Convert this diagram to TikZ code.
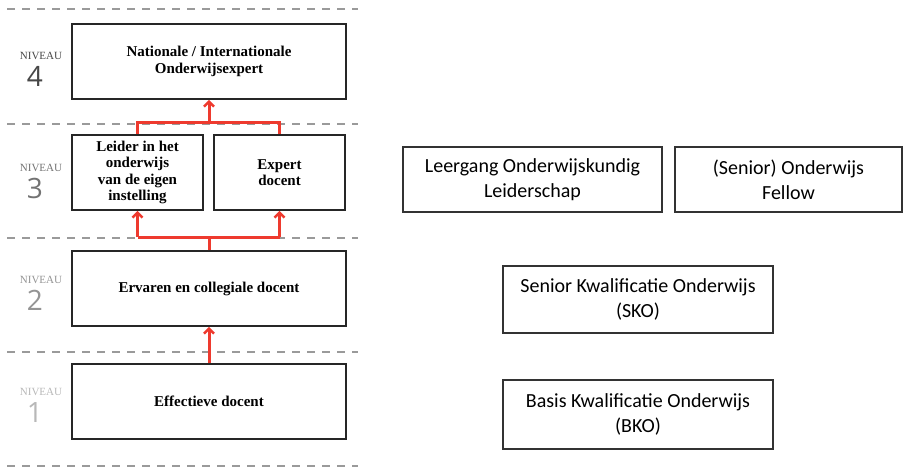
\documentclass[tikz,border=0pt]{standalone}
\usepackage{fontspec}
\setmainfont{Liberation Serif}
\newfontfamily\carlito{Carlito}
\newfontfamily\opensans{Open Sans}
\usetikzlibrary{arrows.meta}
\definecolor{arrowred}{HTML}{EE3A2E}
\definecolor{dashgray}{HTML}{9A9A9A}
\tikzset{
  levelbox/.style={draw=black!85, line width=1.5pt, fill=white, inner sep=0pt,
    align=center, font=\bfseries\fontsize{15}{16.5}\selectfont},
  coursebox/.style={draw=black!80, line width=1.1pt, inner sep=0pt,
    align=center, font=\carlito\fontsize{20}{25}\selectfont},
  sepline/.style={dashgray, line width=1.3pt, dash pattern=on 8pt off 7pt},
  uparrow/.style={arrowred, line width=3pt, -{Straight Barb[length=5pt,width=10pt,line width=2.6pt]}},
  redline/.style={arrowred, line width=3pt},
  niv/.style={font=\fontsize{11}{12}\selectfont, inner sep=0pt},
  digit/.style={font=\opensans\fontsize{28}{29}\selectfont, inner sep=0pt},
}
\begin{document}
\begin{tikzpicture}[x=1pt,y=-1pt]
\useasboundingbox (0,0) rectangle (904,467);

% level separators
\foreach \yy in {9,124,238,352,466}
  \draw[sepline] (7,\yy) -- (358,\yy);

% level labels
\foreach \yy/\num/\col in {56/4/black!72, 168/3/black!55, 280/2/black!42, 392/1/black!28}{
  \node[niv, text=\col] at (41,\yy) {NIVEAU};
  \node[digit, text=\col] at (35,\yy+20) {\num};
}

% competence levels
\node[levelbox, minimum width=274pt, minimum height=75pt] (l4) at (209,61.5)
  {Nationale / Internationale\\Onderwijsexpert};
\node[levelbox, minimum width=131pt, minimum height=75pt] (l3a) at (137.5,172.5)
  {Leider in het\\onderwijs\\van de eigen\\instelling};
\node[levelbox, minimum width=131pt, minimum height=75pt] (l3b) at (279.5,172.5)
  {Expert\\docent};
\node[levelbox, minimum width=274pt, minimum height=75pt] (l2) at (209,288.5)
  {Ervaren en collegiale docent};
\node[levelbox, minimum width=274pt, minimum height=75pt] (l1) at (209,401.5)
  {Effectieve docent};

% progression arrows
\coordinate (j2) at (209,237);
\coordinate (j3) at (209,122);
\draw[redline] (l2.north) -- (j2);
\draw[redline] (l3a.south |- j2) -- (l3b.south |- j2);
\draw[uparrow] (l3a.south |- j2) -- (l3a.south);
\draw[uparrow] (l3b.south |- j2) -- (l3b.south);
\draw[redline] (l3a.north) -- (l3a.north |- j3) -- (l3b.north |- j3) -- (l3b.north);
\draw[uparrow] (j3) -- (l4.south);
\draw[uparrow] (l1.north) -- (l2.south);

% matching qualifications
\node[coursebox, minimum width=259pt, minimum height=65pt] (c3a) at (532.5,179.5)
  {Leergang Onderwijskundig\\Leiderschap};
\node[coursebox, minimum width=227pt, minimum height=65pt] (c3b) at (788.5,179.5)
  {(Senior) Onderwijs\\Fellow};
\node[coursebox, minimum width=270pt, minimum height=67pt] (c2) at (638,299.5)
  {Senior Kwalificatie Onderwijs\\(SKO)};
\node[coursebox, minimum width=270pt, minimum height=69pt] (c1) at (638,414.5)
  {Basis Kwalificatie Onderwijs\\(BKO)};
\end{tikzpicture}
\end{document}
